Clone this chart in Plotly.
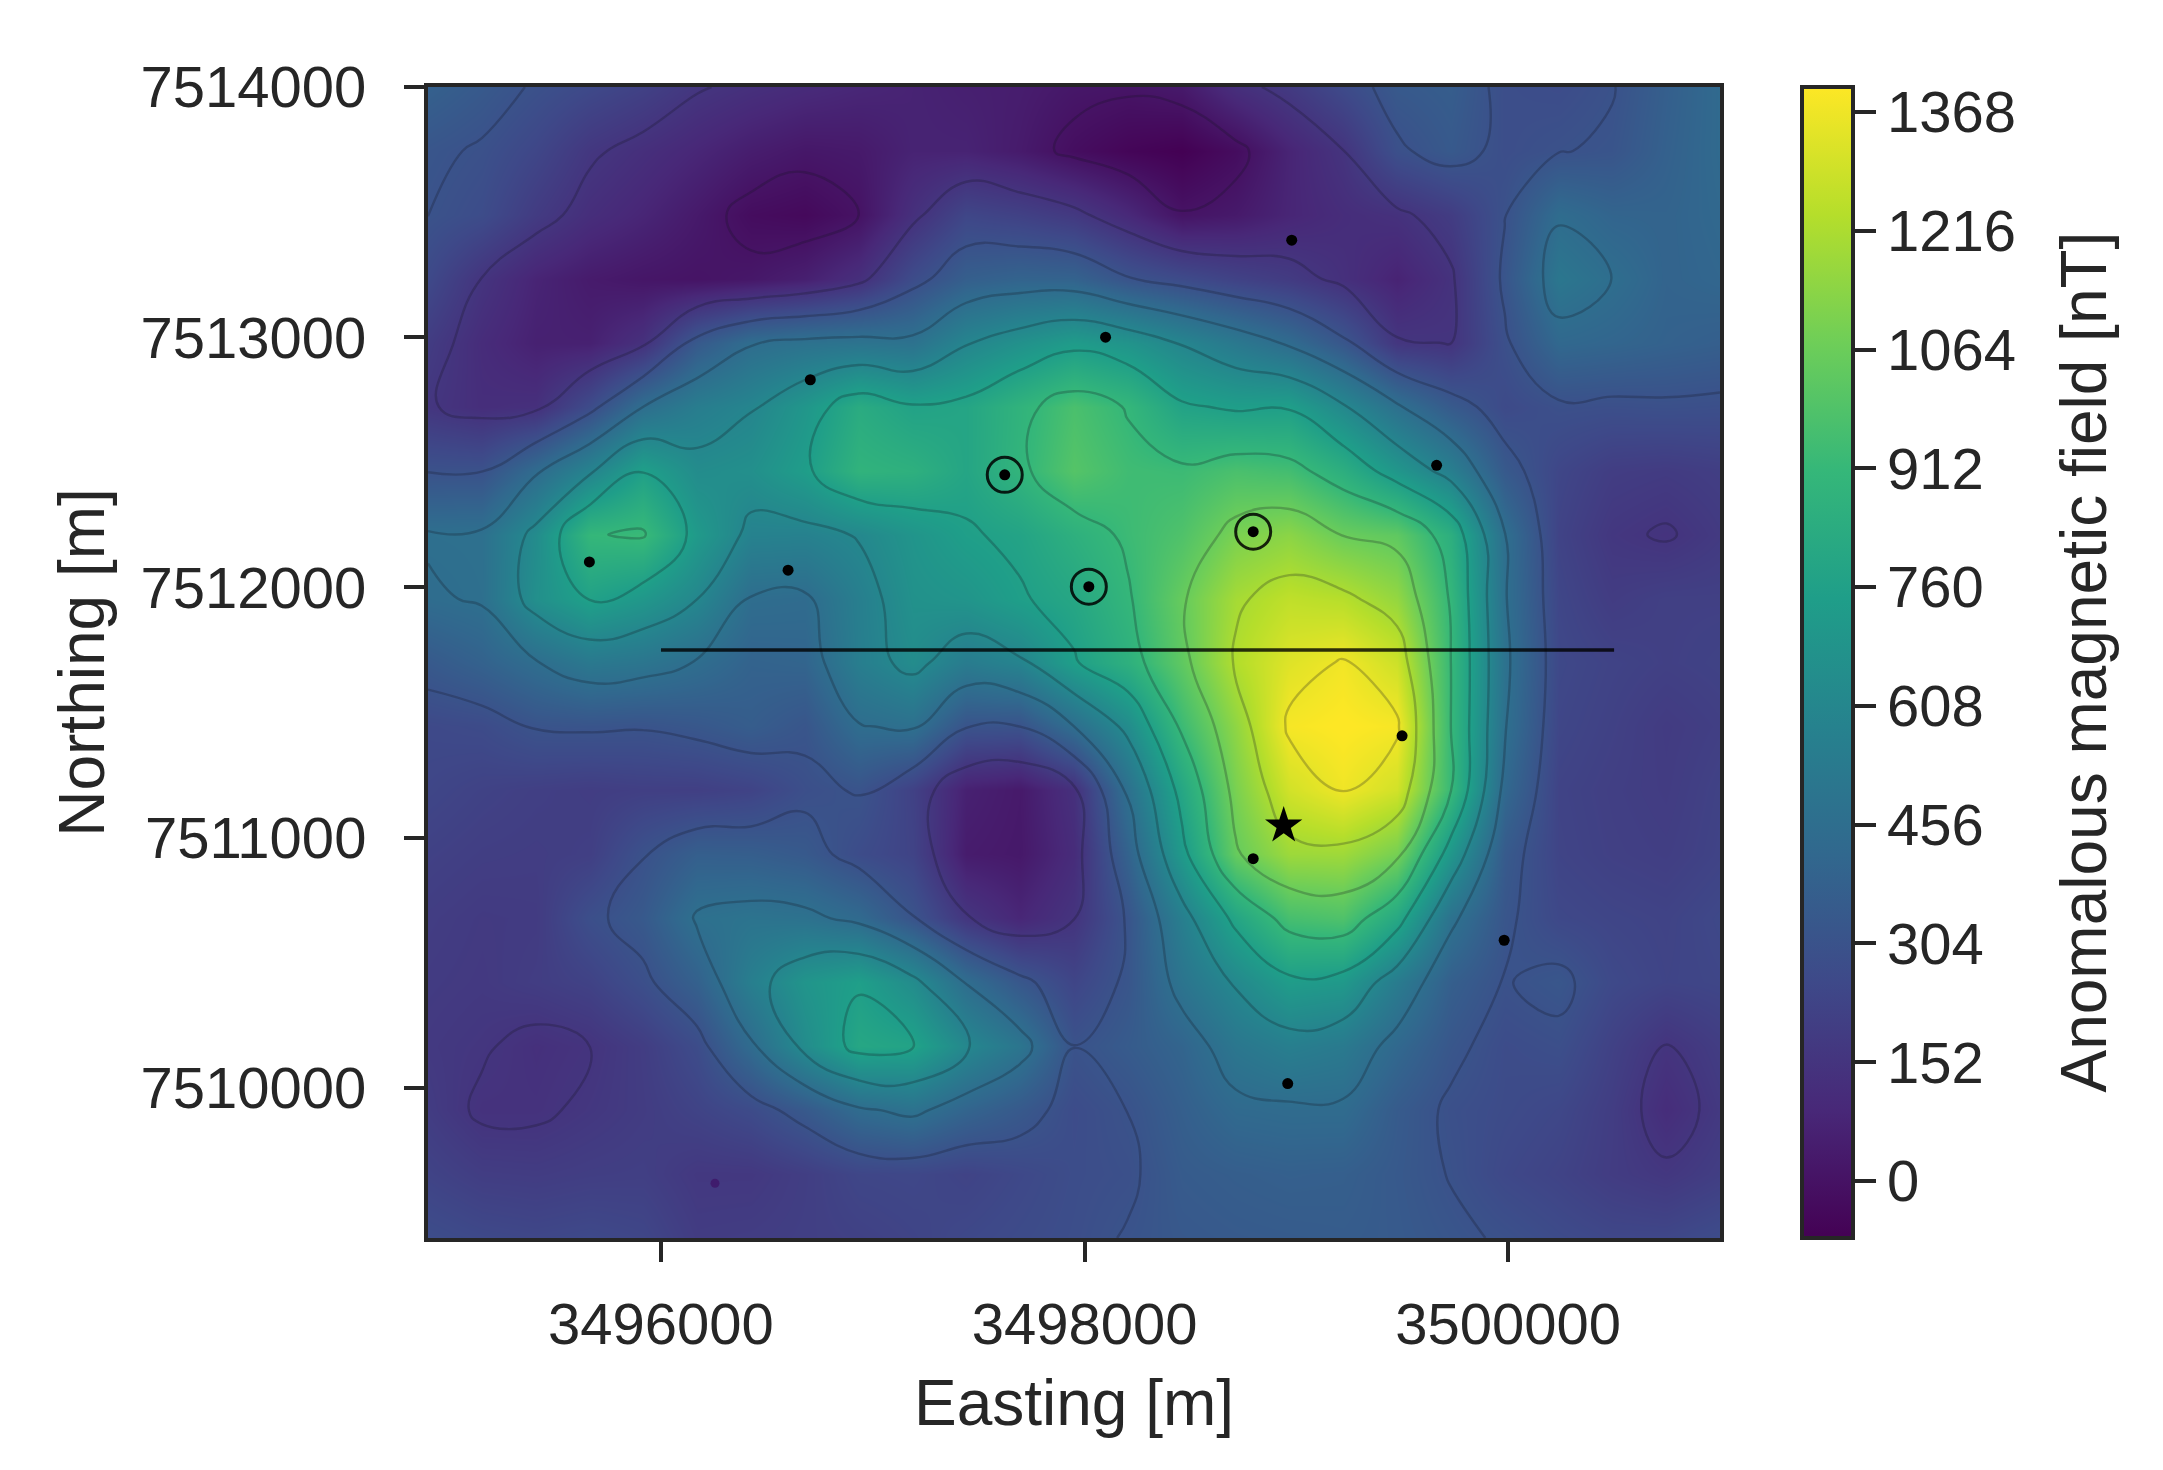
import plotly.graph_objects as go

eastings = [3494900 + 254.17 * i for i in range(25)]
northings = [7514000 - 255.56 * j for j in range(19)]

anomaly = [
 [380,340,295,255,215,160,130,105,85,70,55,45,20,10,30,125,180,260,340,360,280,270,300,370,430],
 [320,295,240,165,125,85,45,20,30,70,70,35,-20,-55,-75,-25,75,150,290,340,280,300,315,380,430],
 [305,270,185,120,80,30,-25,-40,0,130,240,215,175,95,5,30,80,115,135,190,300,445,400,395,420],
 [255,150,75,35,15,5,20,55,125,270,370,395,390,310,265,220,185,130,70,140,320,510,455,395,410],
 [190,110,60,60,135,340,450,480,490,480,600,670,730,685,600,520,440,325,160,150,290,420,405,385,370],
 [160,120,130,270,456,550,600,700,830,770,790,880,970,905,775,745,750,620,470,345,260,290,285,290,285],
 [300,300,440,590,755,640,660,740,880,860,790,890,1000,940,930,970,950,850,700,560,340,240,195,185,200],
 [465,470,640,905,925,720,580,575,615,690,750,780,860,930,985,1100,1140,1060,1030,850,460,225,165,145,180],
 [445,465,660,765,705,610,450,440,560,670,690,750,800,900,1050,1200,1260,1240,1160,900,465,240,190,210,210],
 [340,385,450,520,500,450,390,400,555,640,540,590,750,860,1030,1230,1330,1375,1290,912,480,250,225,210,220],
 [255,265,310,315,310,330,360,320,450,470,310,305,456,640,930,1150,1385,1405,1385,912,465,240,215,185,205],
 [240,220,205,195,205,205,225,285,310,215,60,30,130,470,800,1100,1300,1370,1300,915,420,225,205,190,220],
 [215,200,195,205,300,370,365,340,270,225,40,25,110,390,720,1050,1180,1185,1090,700,345,230,210,200,225],
 [195,180,185,285,340,470,490,480,430,310,160,85,150,315,560,790,960,985,810,480,320,250,235,225,250],
 [185,175,195,220,285,380,560,690,750,640,450,330,235,320,495,620,735,715,540,370,300,325,255,230,240],
 [175,160,130,150,195,270,440,640,800,775,615,500,305,350,400,510,560,530,420,325,270,285,215,150,195],
 [190,140,140,165,190,225,265,340,440,480,400,340,270,305,370,430,440,440,350,290,265,245,195,115,175],
 [225,195,190,200,205,170,170,200,240,245,225,250,275,290,350,365,375,370,340,300,250,225,190,165,200],
 [275,255,245,255,240,190,195,205,215,230,250,265,280,310,335,345,350,355,345,320,295,265,245,245,270],
]

station_x = [3498978, 3498099, 3496705, 3499662, 3497623, 3498796, 3495662, 3496600, 3498020, 3499499, 3498796, 3499981, 3498959]
station_y = [7513388, 7513000, 7512830, 7512488, 7512450, 7512223, 7512102, 7512069, 7512003, 7511407, 7510916, 7510590, 7510017]
circled_x = [3497623, 3498796, 3498020]
circled_y = [7512450, 7512223, 7512003]
star_x = [3498940]
star_y = [7511048]
faint_x = [3496255]
faint_y = [7509619]
profile_x = [3496000, 3500500]
profile_y = [7511750, 7511750]

cbar_ticks = [0, 152, 304, 456, 608, 760, 912, 1064, 1216, 1368]
x_ticks = [3496000, 3498000, 3500000]
y_ticks = [7510000, 7511000, 7512000, 7513000, 7514000]

INK = "#262626"
FONT = "Liberation Sans"
W, H = 2163, 1470
L, R, T, B = 428, 1720, 87, 1238

fig = go.Figure()
fig.add_trace(go.Heatmap(
    x=eastings, y=northings, z=anomaly, colorscale="Viridis", zmin=-73, zmax=1400, zsmooth="best",
    hoverinfo="skip",
    colorbar=dict(
        x=(1802 - L) / (R - L), xanchor="left", y=0.5, yanchor="middle",
        lenmode="pixels", len=B - T, thicknessmode="pixels", thickness=51, xpad=0, ypad=0,
        outlinewidth=4, outlinecolor=INK, tickvals=cbar_ticks, ticks="outside", ticklen=21, tickwidth=4,
        tickcolor=INK, tickprefix="\u00a0\u00a0", tickfont=dict(family=FONT, size=58, color=INK),
    ),
))
fig.add_trace(go.Contour(
    x=eastings, y=northings, z=anomaly, showscale=False, hoverinfo="skip",
    autocontour=False, contours=dict(coloring="none", start=0, end=1368, size=152),
    line=dict(color="rgba(20,20,30,0.25)", width=2.4, smoothing=1.3),
))
fig.add_trace(go.Scatter(x=profile_x, y=profile_y, mode="lines", line=dict(color="rgba(0,0,0,0.8)", width=3.5), showlegend=False))
fig.add_trace(go.Scatter(x=station_x, y=station_y, mode="markers", marker=dict(color="black", size=11), showlegend=False))
fig.add_trace(go.Scatter(x=faint_x, y=faint_y, mode="markers", marker=dict(color="rgba(60,0,90,0.5)", size=9), showlegend=False))
fig.add_trace(go.Scatter(x=circled_x, y=circled_y, mode="markers",
    marker=dict(symbol="circle-open", color="rgba(0,0,0,0.85)", size=35, line=dict(width=3, color="rgba(0,0,0,0.85)")), showlegend=False))
fig.add_trace(go.Scatter(x=star_x, y=star_y, mode="markers", marker=dict(symbol="star", color="black", size=28), showlegend=False))

axis = dict(showgrid=False, zeroline=False, showline=True, mirror=True, linewidth=4, linecolor=INK,
            ticks="outside", ticklen=20, tickwidth=4, tickcolor=INK, tickformat="d",
            tickfont=dict(family=FONT, size=58, color=INK))
fig.update_layout(
    width=W, height=H, paper_bgcolor="white", plot_bgcolor="white", showlegend=False,
    margin=dict(l=L, r=W - R, t=T, b=H - B, autoexpand=False),
    xaxis=dict(axis, range=[3494900, 3501000], tickvals=x_ticks, ticklabelstandoff=12,
               title=dict(text="Easting [m]", font=dict(family=FONT, size=64, color=INK), standoff=27)),
    yaxis=dict(axis, range=[7509400, 7514000], tickvals=y_ticks, ticklabelstandoff=26,
               title=dict(text="Northing [m]", font=dict(family=FONT, size=64, color=INK), standoff=16)),
    annotations=[dict(text="Anomalous magnetic field [nT]", textangle=-90, showarrow=False,
                      xref="paper", yref="paper", x=(2083 - L) / (R - L), y=0.5, xanchor="center", yanchor="middle",
                      font=dict(family=FONT, size=64, color=INK))],
)
fig.write_html("out.html", config={"displayModeBar": False}, post_script='document.body.style.margin="0";')
